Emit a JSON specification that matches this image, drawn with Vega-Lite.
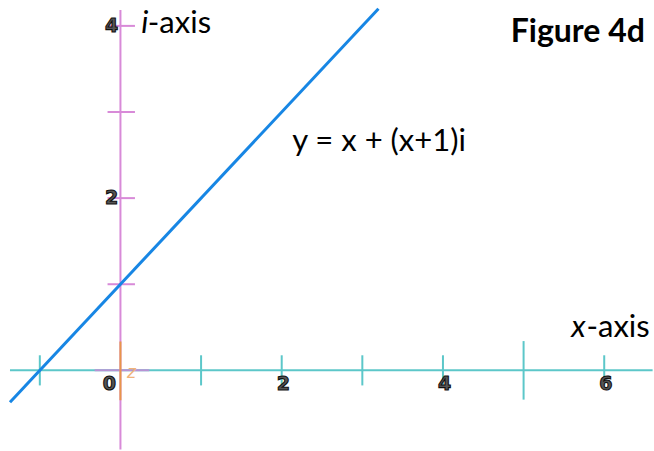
{
  "$schema": "https://vega.github.io/schema/vega-lite/v6.json",
  "width": 654,
  "height": 451,
  "autosize": {"type": "fit", "contains": "padding"},
  "padding": 0,
  "background": "white",
  "config": {"view": {"stroke": null}},
  "datasets": {
    "rules": [
      {"kind": "x-axis", "x": -1.37, "x2": 6.6, "y": 0, "y2": 0},
      {"kind": "i-axis", "x": 0, "x2": 0, "y": -0.92, "y2": 4.185},
      {"kind": "x-axis", "x": -1, "x2": -1, "y": -0.175, "y2": 0.175},
      {"kind": "x-axis", "x": 1, "x2": 1, "y": -0.175, "y2": 0.175},
      {"kind": "x-axis", "x": 2, "x2": 2, "y": -0.175, "y2": 0.175},
      {"kind": "x-axis", "x": 3, "x2": 3, "y": -0.175, "y2": 0.175},
      {"kind": "x-axis", "x": 4, "x2": 4, "y": -0.175, "y2": 0.175},
      {"kind": "x-axis", "x": 5, "x2": 5, "y": -0.34, "y2": 0.34},
      {"kind": "x-axis", "x": 6, "x2": 6, "y": -0.175, "y2": 0.175},
      {"kind": "i-axis", "x": -0.16, "x2": 0.18, "y": 1, "y2": 1},
      {"kind": "i-axis", "x": -0.16, "x2": 0.18, "y": 2, "y2": 2},
      {"kind": "i-axis", "x": -0.16, "x2": 0.18, "y": 3, "y2": 3},
      {"kind": "i-axis", "x": -0.16, "x2": 0.18, "y": 4, "y2": 4},
      {"kind": "origin-h", "x": -0.32, "x2": 0.358, "y": 0, "y2": 0},
      {"kind": "origin-v", "x": 0, "x2": 0, "y": -0.347, "y2": 0.335}
    ],
    "line": [
      {"x": -1.37, "y": -0.37},
      {"x": 3.2, "y": 4.2}
    ]
  },
  "layer": [
    {
      "data": {"name": "rules"},
      "mark": {"type": "rule", "strokeWidth": 2},
      "encoding": {
        "x": {"field": "x", "type": "quantitative", "scale": {"domain": [-1.4938, 6.5802], "nice": false, "zero": false}, "axis": null},
        "x2": {"field": "x2"},
        "y": {"field": "y", "type": "quantitative", "scale": {"domain": [-0.9133, 4.3006], "nice": false, "zero": false}, "axis": null},
        "y2": {"field": "y2"},
        "color": {"field": "kind", "type": "nominal", "legend": null,
          "scale": {"domain": ["x-axis", "i-axis", "origin-h", "origin-v"], "range": ["#5cc7c9", "#d88ad8", "#b892d4", "#e8954a"]}}
      }
    },
    {
      "data": {"name": "line"},
      "mark": {"type": "line", "color": "#1786e4", "strokeWidth": 3},
      "encoding": {
        "x": {"field": "x", "type": "quantitative", "scale": {"domain": [-1.4938, 6.5802], "nice": false, "zero": false}, "axis": null},
        "y": {"field": "y", "type": "quantitative", "scale": {"domain": [-0.9133, 4.3006], "nice": false, "zero": false}, "axis": null}
      }
    },
    {
      "data": {"values": [
        {"x": -0.136, "y": -0.162, "label": "0"},
        {"x": 2.02, "y": -0.162, "label": "2"},
        {"x": 4.02, "y": -0.162, "label": "4"},
        {"x": 6.02, "y": -0.162, "label": "6"},
        {"x": -0.111, "y": 2.0, "label": "2"},
        {"x": -0.111, "y": 4.0, "label": "4"}
      ]},
      "mark": {"type": "text", "font": "DejaVu Sans", "fontSize": 19, "fontWeight": "bold", "color": "#555555", "stroke": "#111111", "strokeWidth": 1.1, "align": "center", "baseline": "middle"},
      "encoding": {
        "x": {"field": "x", "type": "quantitative", "scale": {"domain": [-1.4938, 6.5802], "nice": false, "zero": false}, "axis": null},
        "y": {"field": "y", "type": "quantitative", "scale": {"domain": [-0.9133, 4.3006], "nice": false, "zero": false}, "axis": null},
        "text": {"field": "label"}
      }
    },
    {
      "data": {"values": [
        {"x": 0.259, "y": 3.919, "label": "i"},
        {"x": 5.59, "y": 0.393, "label": "x"}
      ]},
      "mark": {"type": "text", "font": "Lato", "fontSize": 31, "fontStyle": "italic", "color": "#000000", "align": "left", "baseline": "alphabetic"},
      "encoding": {
        "x": {"field": "x", "type": "quantitative", "scale": {"domain": [-1.4938, 6.5802], "nice": false, "zero": false}, "axis": null},
        "y": {"field": "y", "type": "quantitative", "scale": {"domain": [-0.9133, 4.3006], "nice": false, "zero": false}, "axis": null},
        "text": {"field": "label"}
      }
    },
    {
      "data": {"values": [
        {"x": 0.34, "y": 3.919, "label": "-axis"},
        {"x": 5.78, "y": 0.393, "label": "-axis"},
        {"x": 2.13, "y": 2.543, "label": "y = x + (x+1)i"}
      ]},
      "mark": {"type": "text", "font": "Lato", "fontSize": 31, "color": "#000000", "align": "left", "baseline": "alphabetic"},
      "encoding": {
        "x": {"field": "x", "type": "quantitative", "scale": {"domain": [-1.4938, 6.5802], "nice": false, "zero": false}, "axis": null},
        "y": {"field": "y", "type": "quantitative", "scale": {"domain": [-0.9133, 4.3006], "nice": false, "zero": false}, "axis": null},
        "text": {"field": "label"}
      }
    },
    {
      "data": {"values": [
        {"x": 4.84, "y": 3.815, "label": "Figure 4d"}
      ]},
      "mark": {"type": "text", "font": "Lato", "fontSize": 32, "fontWeight": "bold", "color": "#000000", "align": "left", "baseline": "alphabetic"},
      "encoding": {
        "x": {"field": "x", "type": "quantitative", "scale": {"domain": [-1.4938, 6.5802], "nice": false, "zero": false}, "axis": null},
        "y": {"field": "y", "type": "quantitative", "scale": {"domain": [-0.9133, 4.3006], "nice": false, "zero": false}, "axis": null},
        "text": {"field": "label"}
      }
    },
    {
      "data": {"values": [
        {"x": 0.136, "y": -0.035, "label": "z"}
      ]},
      "mark": {"type": "text", "font": "DejaVu Sans", "fontSize": 17, "fontStyle": "italic", "color": "#f0b27a", "align": "center", "baseline": "middle"},
      "encoding": {
        "x": {"field": "x", "type": "quantitative", "scale": {"domain": [-1.4938, 6.5802], "nice": false, "zero": false}, "axis": null},
        "y": {"field": "y", "type": "quantitative", "scale": {"domain": [-0.9133, 4.3006], "nice": false, "zero": false}, "axis": null},
        "text": {"field": "label"}
      }
    }
  ]
}
